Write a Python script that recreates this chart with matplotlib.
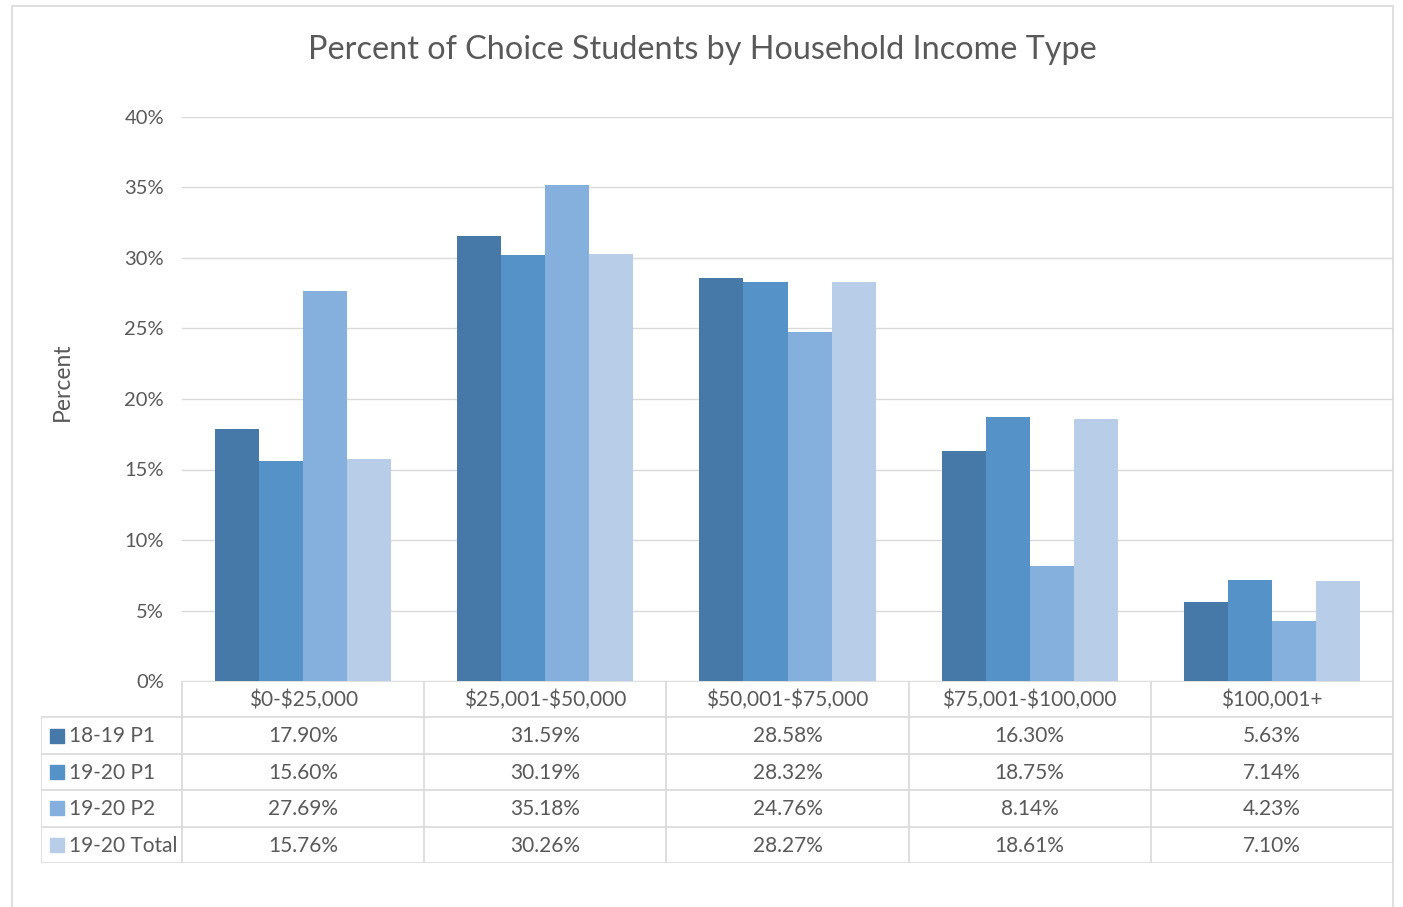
import matplotlib.pyplot as plt
import numpy as np

plt.rcParams['font.family'] = ['Lato', 'DejaVu Sans']

categories = ["$0-$25,000", "$25,001-$50,000", "$50,001-$75,000", "$75,001-$100,000", "$100,001+"]
series_names = ["18-19 P1", "19-20 P1", "19-20 P2", "19-20 Total"]
s_1819_p1 = [17.90, 31.59, 28.58, 16.30, 5.63]
s_1920_p1 = [15.60, 30.19, 28.32, 18.75, 7.14]
s_1920_p2 = [27.69, 35.18, 24.76, 8.14, 4.23]
s_1920_tot = [15.76, 30.26, 28.27, 18.61, 7.10]
series_vals = [s_1819_p1, s_1920_p1, s_1920_p2, s_1920_tot]
colors = ["#4679A8", "#5592C8", "#85AFDC", "#B8CDE8"]

TXT = "#595959"
GRID = "#D9D9D9"
FS = 15

W, H = 1403, 907
fig = plt.figure(figsize=(W / 100, H / 100), dpi=100)

def frac(x0, y0, x1, y1):
    # pixel box -> figure fraction
    return [x0 / W, 1 - y1 / H, (x1 - x0) / W, (y1 - y0) / H]

# outer chart border (bottom edge runs off the picture)
fig.patches.append(plt.Rectangle((12 / W, -0.02), (1393 - 12) / W, 1.02 - 6 / H,
                                 transform=fig.transFigure, fill=False,
                                 edgecolor=GRID, linewidth=1.2))

ax = fig.add_axes(frac(182, 117, 1393, 681))
x = np.arange(len(categories))
bw = 0.182
for i, (vals, c) in enumerate(zip(series_vals, colors)):
    ax.bar(x + (i - 1.5) * bw, vals, width=bw, color=c, zorder=3)

ax.set_xlim(-0.5, len(categories) - 0.5)
ax.set_ylim(0, 40)
ax.set_yticks(np.arange(0, 41, 5))
ax.set_yticklabels([f"{v}%" for v in range(0, 41, 5)], color=TXT, fontsize=14.5)
ax.set_xticks([])
ax.tick_params(axis='y', length=0, pad=13)
ax.grid(axis='y', color=GRID, linewidth=1, zorder=0)
for s in ax.spines.values():
    s.set_visible(False)
ax.set_ylabel("Percent", color=TXT, fontsize=16.5)
ax.yaxis.set_label_coords((73 - 182) / (1393 - 182), (681 - 382) / (681 - 117))

fig.text((306 + 1099) / 2 / W, 1 - 50 / H, "Percent of Choice Students by Household Income Type",
         ha='center', va='center', color=TXT, fontsize=23.3)

# data table below the axis
cw = (1393 - 182) / len(categories)
left = -0.5 - (182 - 41) / cw
tab = fig.add_axes(frac(41, 681, 1393, 863))
tab.set_xlim(left, len(categories) - 0.5)
tab.set_ylim(5, 0)
tab.axis('off')

lk = dict(color=GRID, linewidth=1.2)
# horizontal lines
tab.plot([-0.5, len(categories) - 0.5], [0, 0], **lk)
for r in range(1, 6):
    tab.plot([left, len(categories) - 0.5], [r, r], **lk)
# vertical lines
tab.plot([left, left], [1, 5], **lk)
for k in range(len(categories) + 1):
    tab.plot([k - 0.5, k - 0.5], [0, 5], **lk)

for j, cat in enumerate(categories):
    tab.text(j, 0.52, cat, ha='center', va='center', color=TXT, fontsize=FS, parse_math=False)
for i, (name, vals, c) in enumerate(zip(series_names, series_vals, colors)):
    tab.scatter(left + 0.068, i + 1.5, marker='s', s=100, color=c)
    tab.text(left + 0.115, i + 1.52, name, ha='left', va='center', color=TXT, fontsize=FS)
    for j, v in enumerate(vals):
        tab.text(j, i + 1.52, f"{v:.2f}%", ha='center', va='center', color=TXT, fontsize=FS)

fig.savefig("out.png", dpi=100)
